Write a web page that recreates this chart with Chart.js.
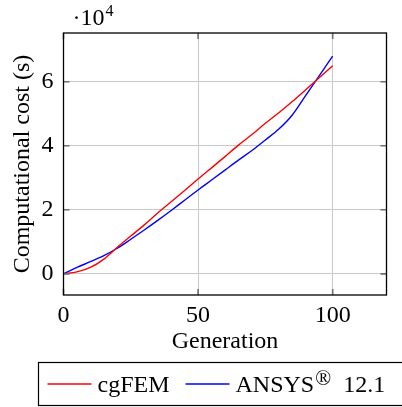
<!DOCTYPE html>
<html>
<head>
<meta charset="utf-8">
<script src="https://cdn.jsdelivr.net/npm/chart.js@4/dist/chart.umd.min.js"></script>
<style>
  html, body { margin: 0; padding: 0; background: #ffffff; }
  #wrap { width: 402px; height: 407px; }
</style>
</head>
<body>
<div id="wrap"><canvas id="c" width="402" height="407"></canvas></div>
<script>
// Run time per generation (seconds)
const generations = [0, 5, 10, 15, 20, 25, 30, 35, 40, 45, 50, 55, 60, 65, 70, 75, 80, 85, 90, 95, 100];
const cgfemCost = [0, 600, 2000, 4600, 8300, 11800, 15300, 19000, 22500, 26000, 29600,
                   33100, 36600, 40200, 43500, 47000, 50300, 53800, 57500, 61200, 65000];
const ansysCost = [0, 2000, 3800, 5700, 8000, 10800, 13700, 16700, 19800, 23000, 26200,
                   29300, 32400, 35500, 38500, 41800, 45200, 49600, 55700, 61800, 68000];

const seriesNames = ['cgFEM', 'ANSYS'];
const xTicks = [0, 50, 100];
const yTicks = [0, 20000, 40000, 60000];
const yScaleExp = 4;

const FONT = "'Liberation Serif', 'DejaVu Serif', serif";
const GRID = '#c8c8c8';

const toPoints = (xs, ys) => xs.map((x, i) => ({ x: x, y: ys[i] }));

const framePlugin = {
  id: 'frame',
  afterDraw(chart) {
    const ctx = chart.ctx;
    const a = chart.chartArea;
    const xs = chart.scales.x, ys = chart.scales.y;
    ctx.save();
    // inner tick marks on all four sides
    ctx.strokeStyle = '#6e6e6e';
    ctx.lineWidth = 1.6;
    const tl = 6;
    xTicks.forEach(v => {
      const px = xs.getPixelForValue(v);
      ctx.beginPath();
      ctx.moveTo(px, a.bottom); ctx.lineTo(px, a.bottom - tl);
      ctx.moveTo(px, a.top); ctx.lineTo(px, a.top + tl);
      ctx.stroke();
    });
    yTicks.forEach(v => {
      const py = ys.getPixelForValue(v);
      ctx.beginPath();
      ctx.moveTo(a.left, py); ctx.lineTo(a.left + tl, py);
      ctx.moveTo(a.right, py); ctx.lineTo(a.right - tl, py);
      ctx.stroke();
    });
    // axis box
    ctx.strokeStyle = '#000000';
    ctx.lineWidth = 1.3;
    ctx.strokeRect(a.left, a.top, a.right - a.left, a.bottom - a.top);

    // scale factor label
    ctx.fillStyle = '#000000';
    ctx.textBaseline = 'alphabetic';
    ctx.textAlign = 'left';
    ctx.font = '24px ' + FONT;
    const bx = a.left + 9, by = a.top - 8;
    ctx.fillText('\u00b710', bx, by);
    const w = ctx.measureText('\u00b710').width;
    ctx.font = '16px ' + FONT;
    ctx.fillText(String(yScaleExp), bx + w + 1, by - 9);

    // legend box
    const ds = chart.data.datasets;
    const boxL = 38.5, boxT = 362.5, boxB = 405.5, boxR = 420;
    ctx.strokeStyle = '#000000';
    ctx.lineWidth = 1.2;
    ctx.strokeRect(boxL, boxT, boxR - boxL, boxB - boxT);
    const midY = 384;
    let x = boxL + 9;
    ds.forEach((d, i) => {
      ctx.strokeStyle = d.borderColor;
      ctx.lineWidth = 1.4;
      ctx.beginPath();
      ctx.moveTo(x, midY); ctx.lineTo(x + 44, midY);
      ctx.stroke();
      x += 50;
      ctx.fillStyle = '#000000';
      ctx.font = '24px ' + FONT;
      ctx.textBaseline = 'alphabetic';
      ctx.fillText(d.label, x, midY + 8);
      x += ctx.measureText(d.label).width;
      if (i === 1) {
        ctx.font = '21px ' + FONT;
        ctx.fillText('\u00ae', x + 1, midY + 1);
        x += ctx.measureText('\u00ae').width + 1;
        ctx.font = '24px ' + FONT;
        ctx.fillText(' 12.1', x + 6, midY + 8);
        x += ctx.measureText(' 12.1').width;
      }
      x += 16;
    });
    ctx.restore();
  }
};

new Chart(document.getElementById('c'), {
  type: 'line',
  data: {
    datasets: [
      {
        label: seriesNames[0],
        data: toPoints(generations, cgfemCost),
        borderColor: '#ff0000',
        borderWidth: 1.4,
        pointRadius: 0,
        fill: false,
        cubicInterpolationMode: 'monotone'
      },
      {
        label: seriesNames[1],
        data: toPoints(generations, ansysCost),
        borderColor: '#0000ff',
        borderWidth: 1.4,
        pointRadius: 0,
        fill: false,
        cubicInterpolationMode: 'monotone'
      }
    ]
  },
  options: {
    responsive: false,
    animation: false,
    devicePixelRatio: 1,
    layout: { padding: { left: 0, top: 33, right: 15.5, bottom: 47 } },
    plugins: {
      legend: { display: false },
      tooltip: { enabled: false }
    },
    scales: {
      x: {
        type: 'linear',
        min: 0,
        max: 120,
        afterBuildTicks: s => { s.ticks = xTicks.map(v => ({ value: v })); },
        afterFit: s => { s.height = 65; },
        grid: { color: GRID, lineWidth: 1, drawTicks: false },
        border: { display: false },
        ticks: {
          color: '#000000',
          font: { family: FONT, size: 24 },
          padding: 6,
          maxRotation: 0
        },
        title: {
          display: true,
          text: 'Generation',
          color: '#000000',
          font: { family: FONT, size: 24 },
          padding: { top: 0, bottom: 4 }
        }
      },
      y: {
        type: 'linear',
        min: -6600,
        max: 75200,
        afterBuildTicks: s => { s.ticks = yTicks.map(v => ({ value: v })); },
        afterFit: s => { s.width = 63.5; },
        grid: { color: GRID, lineWidth: 1, drawTicks: false },
        border: { display: false },
        ticks: {
          color: '#000000',
          font: { family: FONT, size: 24 },
          padding: 10,
          callback: v => String(v / Math.pow(10, yScaleExp))
        },
        title: {
          display: true,
          text: 'Computational cost (s)',
          color: '#000000',
          font: { family: FONT, size: 24 },
          padding: { top: 8, bottom: 0 }
        }
      }
    }
  },
  plugins: [framePlugin]
});
</script>
</body>
</html>
